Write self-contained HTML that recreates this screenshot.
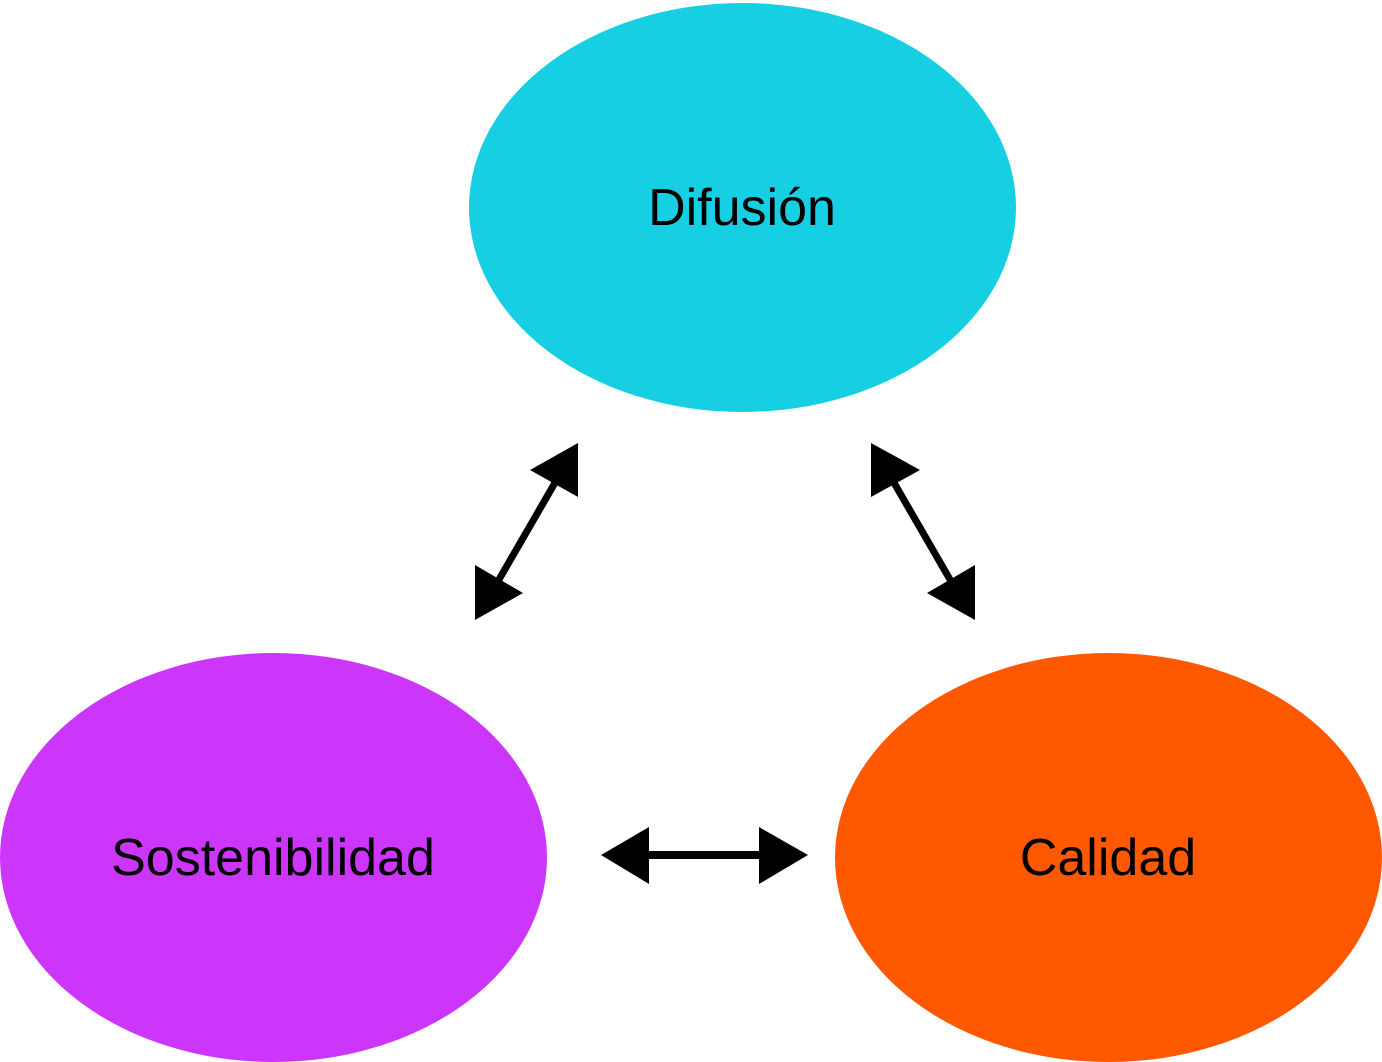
<!DOCTYPE html>
<html><head><meta charset="utf-8"><style>
html,body{margin:0;padding:0;background:#fff;}
svg{display:block;}
text{font-family:"Liberation Sans",sans-serif;font-size:52px;fill:#000;text-anchor:middle;}
</style></head><body>
<svg width="1382" height="1062" viewBox="0 0 1382 1062">
<ellipse cx="742.5" cy="207.5" rx="273.5" ry="204.5" fill="#16cfe2"/>
<ellipse cx="273.5" cy="857.5" rx="273.5" ry="204.5" fill="#cc36fb"/>
<ellipse cx="1108.5" cy="857.5" rx="273.5" ry="204.5" fill="#fe5900"/>
<text x="742" y="225">Difusión</text>
<text x="273" y="875">Sostenibilidad</text>
<text x="1108" y="875">Calidad</text>
<g fill="#000" stroke="#000">
<line x1="556" y1="481" x2="497" y2="583" stroke-width="7"/>
<polygon points="578,443 530,470 578,497" stroke="none"/>
<polygon points="475,620 475,565 523,593" stroke="none"/>
<line x1="893" y1="481" x2="952" y2="583" stroke-width="7"/>
<polygon points="871,443 920,470 871,497" stroke="none"/>
<polygon points="975,620 975,565 927,593" stroke="none"/>
<line x1="645" y1="855" x2="765" y2="855" stroke-width="8"/>
<polygon points="601,855 649,827 649,884" stroke="none"/>
<polygon points="808,855 759,827 759,884" stroke="none"/>
</g>
</svg>
</body></html>
